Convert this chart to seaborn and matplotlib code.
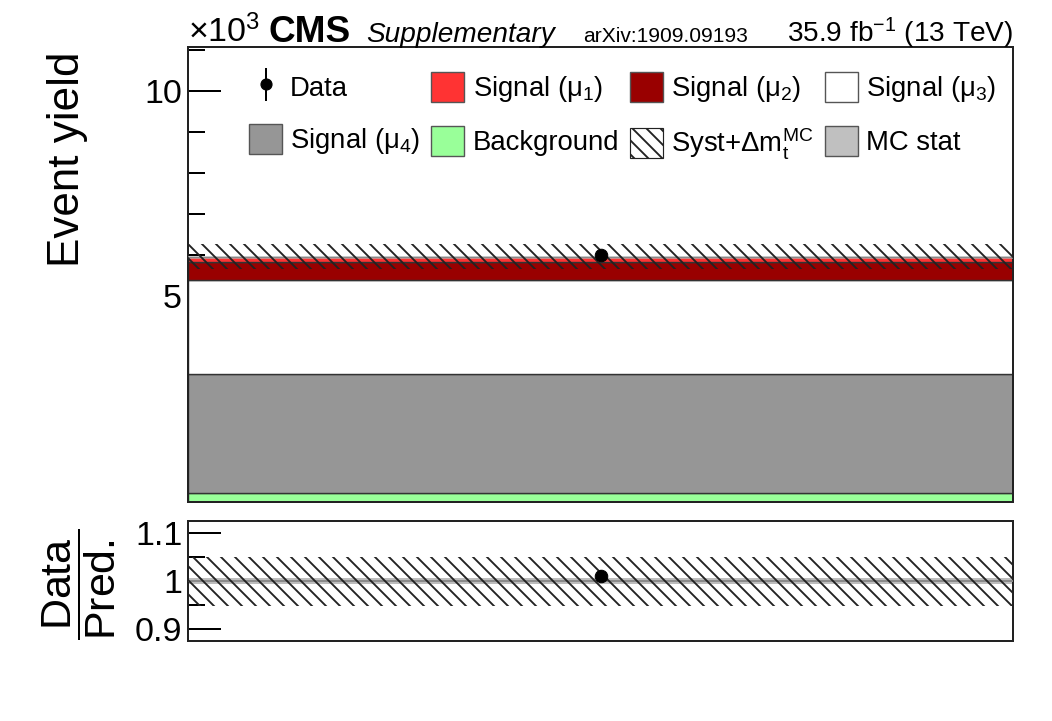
import numpy as np
import pandas as pd
import matplotlib
matplotlib.use("Agg")
import matplotlib.pyplot as plt
import seaborn as sns
from matplotlib.patches import Patch
from matplotlib.lines import Line2D
from matplotlib.legend_handler import HandlerTuple

# ---------------- data (event yields in units of 10^3) ----------------
processes = ["Background", "Signal (μ4)", "Signal (μ3)", "Signal (μ2)", "Signal (μ1)"]
yields = [0.22, 2.90, 2.28, 0.44, 0.11]
colors = ["#99ff99", "#969696", "#ffffff", "#990000", "#ff3333"]
data_yield = [6.01]
data_err = [0.078]
syst_up = [6.28]
syst_down = [5.68]
mcstat_rel = [0.006]
ratio_data = [1.010]
ratio_err = [0.013]
ratio_syst_up = [1.05]
ratio_syst_down = [0.948]
bin_edges = [0.0, 1.0]

DPI = 84
PT = 72.0 / DPI  # px -> pt

sns.set_theme(style="ticks")
plt.rcParams["font.family"] = ["Liberation Sans", "DejaVu Sans"]
plt.rcParams["mathtext.fontset"] = "custom"
plt.rcParams["mathtext.rm"] = "Liberation Sans"
plt.rcParams["mathtext.it"] = "Liberation Sans:italic"
plt.rcParams["mathtext.bf"] = "Liberation Sans:bold"
plt.rcParams["hatch.linewidth"] = 1.6
plt.rcParams["axes.linewidth"] = 2 * PT
for k in ["text.color", "axes.labelcolor", "xtick.color", "ytick.color", "axes.edgecolor"]:
    plt.rcParams[k] = "black"

fig = plt.figure(figsize=(1052 / DPI, 721 / DPI), dpi=DPI)
W, H = 1052.0, 721.0
ax = fig.add_axes([188 / W, 1 - 502 / H, (1013 - 188) / W, (502 - 47) / H])
ax2 = fig.add_axes([188 / W, 1 - 641 / H, (1013 - 188) / W, (641 - 521) / H])

xc = 0.5 * (bin_edges[0] + bin_edges[1])
width = bin_edges[1] - bin_edges[0]
HATCH_COLOR = "#222222"

# ---------------- main panel: stacked single bin ----------------
bottoms = np.concatenate([[0.0], np.cumsum(yields)[:-1]])
for y, b, c in zip(yields, bottoms, colors):
    ax.bar(xc, y, bottom=b, width=width, color=c, edgecolor="#333333",
           linewidth=1.2, zorder=2)
total = float(np.sum(yields))
ax.fill_between(bin_edges, [total * (1 - mcstat_rel[0])] * 2, [total * (1 + mcstat_rel[0])] * 2,
                color="#c0c0c0", alpha=0.6, linewidth=0, zorder=3)
ax.fill_between(bin_edges, syst_down * 2, syst_up * 2, facecolor="none",
                edgecolor=HATCH_COLOR, hatch="\\\\", linewidth=0, zorder=4)
ax.errorbar([xc], data_yield, yerr=data_err, fmt="none", ecolor="black",
            elinewidth=2 * PT, zorder=5)
sns.scatterplot(x=[xc], y=data_yield, color="black", s=115, edgecolor="black",
                ax=ax, zorder=6, legend=False)

ax.set_xlim(bin_edges[0], bin_edges[1])
ax.set_ylim(0, 11.07)
ax.set_xticks([])
ax.set_yticks([0, 5, 10])
ax.set_yticklabels(["", "5", "10"])
ax.set_yticks(np.arange(1, 12, 1), minor=True)
ax.tick_params(axis="y", which="major", direction="in", length=33 * PT, width=2 * PT,
               labelsize=34 * PT, pad=5, left=True, right=False, colors="black")
ax.tick_params(axis="y", which="minor", direction="in", length=17 * PT, width=2 * PT,
               left=True, right=False, colors="black")
ax.set_xlabel("")
ax.set_ylabel("")
for s in ax.spines.values():
    s.set_linewidth(2 * PT)
    s.set_color("#222222")

# ---------------- ratio panel ----------------
ax2.fill_between(bin_edges, [1 - mcstat_rel[0]] * 2, [1 + mcstat_rel[0]] * 2,
                 color="#bdbdbd", linewidth=0, zorder=2)
ax2.axhline(1.0, color="#8a8a8a", linewidth=2 * PT, zorder=3)
ax2.fill_between(bin_edges, ratio_syst_down * 2, ratio_syst_up * 2, facecolor="none",
                 edgecolor=HATCH_COLOR, hatch="\\\\", linewidth=0, zorder=4)
ax2.errorbar([xc], ratio_data, yerr=ratio_err, fmt="none", ecolor="black",
             elinewidth=2 * PT, zorder=5)
sns.scatterplot(x=[xc], y=ratio_data, color="black", s=115, edgecolor="black",
                ax=ax2, zorder=6, legend=False)
ax2.set_xlim(bin_edges[0], bin_edges[1])
ax2.set_ylim(0.875, 1.125)
ax2.set_xticks([])
ax2.set_yticks([0.9, 1.0, 1.1])
ax2.set_yticklabels(["0.9", "1", "1.1"])
ax2.set_yticks([0.95, 1.05], minor=True)
ax2.tick_params(axis="y", which="major", direction="in", length=33 * PT, width=2 * PT,
                labelsize=34 * PT, pad=5, left=True, right=False, colors="black")
ax2.tick_params(axis="y", which="minor", direction="in", length=17 * PT, width=2 * PT,
                left=True, right=False, colors="black")
ax2.set_xlabel("")
ax2.set_ylabel("")
for s in ax2.spines.values():
    s.set_linewidth(2 * PT)
    s.set_color("#222222")

# ---------------- axis titles ----------------
fig.text(67 / W, 1 - 159 / H, "Event yield", rotation=90, ha="center", va="center",
         fontsize=44 * PT, color="black")
fig.text(79 / W, 1 - 584 / H, r"$\dfrac{\mathrm{Data}}{\mathrm{Pred.}}$", rotation=90,
         ha="center", va="center", fontsize=43 * PT, color="black")

# ---------------- header ----------------
base = 1 - 42 / H
fig.text(188 / W, base, r"×10$^{3}$", ha="left", va="baseline", fontsize=34 * PT)
fig.text(268 / W, base, "CMS", ha="left", va="baseline", fontsize=37 * PT, fontweight="bold")
fig.text(366 / W, base, "Supplementary", ha="left", va="baseline", fontsize=28 * PT,
         fontstyle="italic")
fig.text(583 / W, base, "arXiv:1909.09193", ha="left", va="baseline", fontsize=21 * PT)
fig.text(1013 / W, base, r"35.9 fb$^{-1}$ (13 TeV)", ha="right", va="baseline",
         fontsize=28 * PT)

# ---------------- legend ----------------
data_handle = (Line2D([], [], marker="|", color="black", linestyle="none", markersize=33 * PT,
                      markeredgewidth=2 * PT),
               Line2D([], [], marker="o", color="black", linestyle="none", markersize=11 * PT))
edge = "#555555"
h_mu1 = Patch(facecolor=colors[4], edgecolor=edge, linewidth=1.2)
h_mu2 = Patch(facecolor=colors[3], edgecolor=edge, linewidth=1.2)
h_mu3 = Patch(facecolor=colors[2], edgecolor=edge, linewidth=1.2)
h_mu4 = Patch(facecolor=colors[1], edgecolor=edge, linewidth=1.2)
h_bkg = Patch(facecolor=colors[0], edgecolor=edge, linewidth=1.2)
h_syst = Patch(facecolor="white", edgecolor=HATCH_COLOR, hatch="\\\\", linewidth=1.0)
h_stat = Patch(facecolor="#c0c0c0", edgecolor=edge, linewidth=1.2)

handles = [data_handle, h_mu4, h_mu1, h_bkg, h_mu2, h_syst, h_mu3, h_stat]
labels = ["Data", "Signal (μ$_{4}$)", "Signal (μ$_{1}$)", "Background",
          "Signal (μ$_{2}$)", r"Syst+Δm$_{\mathrm{t}}^{\mathrm{MC}}$", "Signal (μ$_{3}$)", "MC stat"]
ax.legend(handles, labels, ncol=4, loc="upper left",
          bbox_to_anchor=(249 / W, 1 - 72 / H), bbox_transform=fig.transFigure,
          frameon=False, borderpad=0, borderaxespad=0, handlelength=1.2, handleheight=1.3,
          handletextpad=0.3, columnspacing=0.4, labelspacing=0.8, fontsize=27.5 * PT,
          handler_map={tuple: HandlerTuple(ndivide=1)})

fig.savefig("out.png", dpi=DPI)
